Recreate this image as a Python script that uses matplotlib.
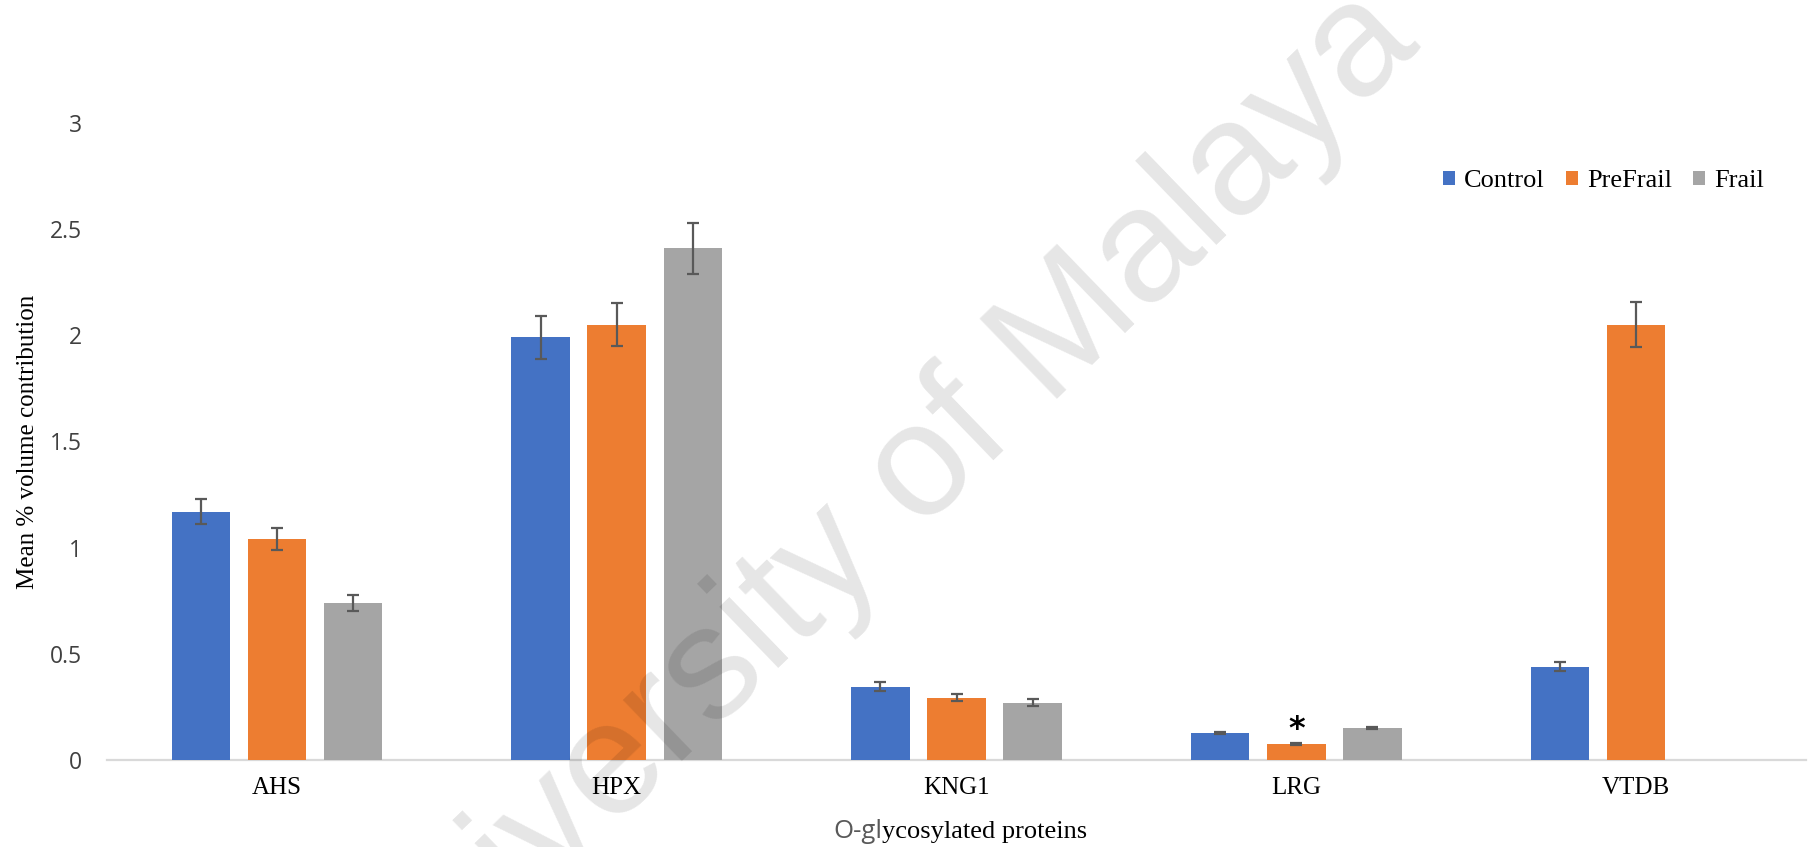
import numpy as np
import matplotlib
matplotlib.use("Agg")
import matplotlib.pyplot as plt
from matplotlib.offsetbox import TextArea, HPacker, AnnotationBbox

# --- data -------------------------------------------------------------
proteins = ["AHS", "HPX", "KNG1", "LRG", "VTDB"]
groups = ["Control", "PreFrail", "Frail"]

control_mean = [1.17, 1.99, 0.345, 0.127, 0.44]
control_err = [0.06, 0.10, 0.020, 0.005, 0.022]

prefrail_mean = [1.04, 2.05, 0.294, 0.075, 2.05]
prefrail_err = [0.053, 0.10, 0.017, 0.004, 0.105]

frail_mean = [0.74, 2.41, 0.270, 0.150, 0.0]
frail_err = [0.037, 0.12, 0.016, 0.006, 0.0]

# significance marker: (protein index, group index)
significant = [(3, 1)]

y_ticks = [0, 0.5, 1, 1.5, 2, 2.5, 3]
y_tick_labels = ["0", "0.5", "1", "1.5", "2", "2.5", "3"]

# --- styling ----------------------------------------------------------
colors = ["#4472C4", "#ED7D31", "#A5A5A5"]
serif = "Liberation Serif"
sans = "Open Sans"

W, H = 1809, 847
fig = plt.figure(figsize=(W / 100, H / 100), dpi=100)
ax = fig.add_axes([107 / W, 1 - 760 / H, (1806 - 107) / W, (760 - 123) / H])

x = np.arange(len(proteins))
bar_w = 0.172
step = 0.224
means = [control_mean, prefrail_mean, frail_mean]
errs = [control_err, prefrail_err, frail_err]

for i, (m, e, c, g) in enumerate(zip(means, errs, colors, groups)):
    xi = x + (i - 1) * step
    m = np.asarray(m)
    e = np.asarray(e)
    ax.bar(xi, m, width=bar_w, color=c, label=g, zorder=2)
    mask = m > 0
    ax.errorbar(xi[mask], m[mask], yerr=e[mask], fmt="none", ecolor="#595959",
                elinewidth=1.6, capsize=4, capthick=1.6, zorder=3)

for pi, gi in significant:
    xs = x[pi] + (gi - 1) * step
    ys = means[gi][pi] + errs[gi][pi] + 0.065
    ax.text(xs, ys, "*", ha="center", va="center", fontsize=23,
            fontweight="bold", family="DejaVu Sans", color="black", zorder=4)

ax.set_xlim(-0.5, len(proteins) - 0.5)
ax.set_ylim(0, 3)
ax.set_yticks(y_ticks)
ax.set_yticklabels(y_tick_labels, family=sans, fontsize=16.5, color="#404040")
ax.set_xticks(x)
ax.set_xticklabels(proteins, family=serif, fontsize=18, color="black")
ax.tick_params(axis="y", length=0, pad=18)
ax.tick_params(axis="x", length=0, pad=12)

for s in ["top", "right", "left"]:
    ax.spines[s].set_visible(False)
ax.spines["bottom"].set_color("#D9D9D9")
ax.spines["bottom"].set_linewidth(1.6)
ax.spines["bottom"].set_zorder(1)

# y-axis title
fig.text(28 / W, 1 - 442 / H, "Mean % volume contribution", rotation=90,
         ha="center", va="center", family=serif, fontsize=18, color="black")

# x-axis title (two typefaces on one baseline)
part1 = TextArea("O-gl", textprops=dict(family=sans, fontsize=18.5, color="#595959"))
part2 = TextArea("ycosylated proteins", textprops=dict(family=serif, fontsize=19, color="black"))
packed = HPacker(children=[part1, part2], align="baseline", pad=0, sep=0)
ab = AnnotationBbox(packed, (960 / W, 1 - 831 / H), xycoords="figure fraction",
                    box_alignment=(0.5, 0.5), frameon=False)
fig.add_artist(ab)

# legend
leg = ax.legend(loc="center right", bbox_to_anchor=(1764 / W, 1 - 181 / H),
                bbox_transform=fig.transFigure, ncol=3, frameon=False,
                prop=dict(family=serif, size=19), handlelength=0.45,
                handleheight=0.45, handletextpad=0.35, columnspacing=0.8,
                borderaxespad=0, borderpad=0)

# watermark
fig.text(900 / W, 1 - 551 / H, "University of Malaya", rotation=44,
         rotation_mode="anchor", ha="center", va="baseline",
         family="Liberation Sans", fontsize=116, color="black", alpha=0.1,
         zorder=10)

fig.savefig("out.png", dpi=100)
